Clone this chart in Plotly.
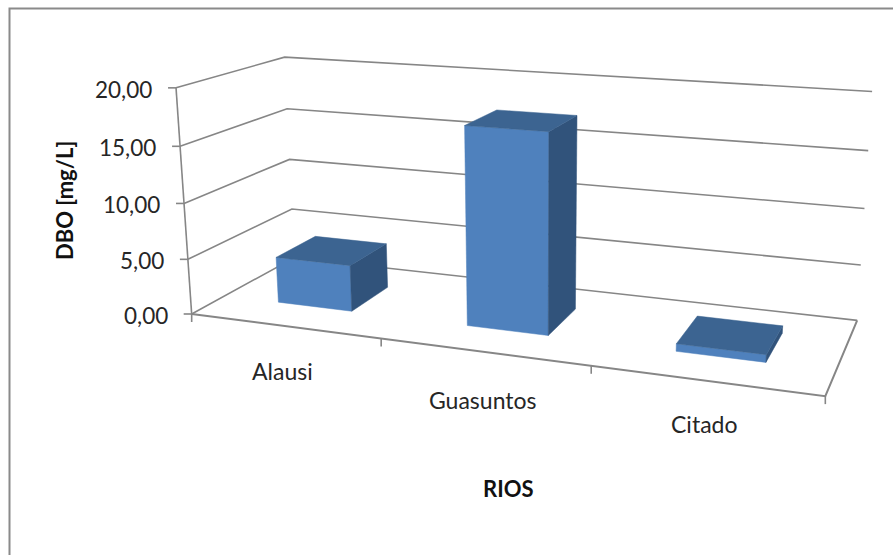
import numpy as np
import plotly.graph_objects as go

# Chart data
categories = ["Alausi", "Guasuntos", "Citado"]
dbo_values = [4.2, 17.4, 0.65]
value_ticks = [0, 5, 10, 15, 20]
y_axis_title = "DBO [mg/L]"
x_axis_title = "RIOS"

# Column footprint inside a category cell and inside the floor depth (gap width 150 %)
CELL_INSET = 0.3
DEPTH_NEAR, DEPTH_FAR = 0.3, 0.7

WIDTH, HEIGHT = 893, 555
GREY = "#868686"
FRONT, TOP, SIDE = "#4F81BD", "#3C6491", "#31537B"
FONT = "Lato"

# Perspective camera: box corners (category, value, depth) and where they land on the page
n_cat = len(categories)
camera_points = [
    ((0, 0, 0), (191, 315)), ((0, 5, 0), (188, 259)), ((0, 10, 0), (184, 203)),
    ((0, 15, 0), (180, 146)), ((0, 20, 0), (177, 88)),
    ((0, 0, 1), (295, 257)), ((0, 5, 1), (292, 209)), ((0, 10, 1), (289, 160)),
    ((0, 15, 1), (287, 109)), ((0, 20, 1), (284, 57)),
    ((n_cat, 0, 1), (857, 320)), ((n_cat, 5, 1), (861, 265.5)), ((n_cat, 10, 1), (865, 208.7)),
    ((n_cat, 15, 1), (868, 151)), ((n_cat, 20, 1), (872, 91)),
    ((n_cat, 0, 0), (825, 396)),
]

# Offsets of the category labels from the front edge of the floor
label_offsets = [(-2, 45), (0, 48), (-1, 43)]


def fit_camera(points):
    """Direct linear transform in normalised coordinates."""
    rows = []
    for (u, v, w), (x, y) in points:
        X = [u / n_cat, v / 20, w, 1]
        px, py = x / WIDTH, y / HEIGHT
        rows.append(X + [0, 0, 0, 0] + [-px * c for c in X])
        rows.append([0, 0, 0, 0] + X + [-py * c for c in X])
    return np.linalg.svd(np.array(rows))[2][-1].reshape(3, 4)


CAMERA = fit_camera(camera_points)


def project(u, v, w):
    x, y, h = CAMERA @ np.array([u / n_cat, v / 20, w, 1])
    return x / h * WIDTH, y / h * HEIGHT


fig = go.Figure()


def add_line(pts, width=1.6, color=GREY):
    fig.add_trace(go.Scatter(x=[p[0] for p in pts], y=[p[1] for p in pts], mode="lines",
                             line=dict(color=color, width=width), hoverinfo="skip",
                             showlegend=False))


def add_face(pts, color):
    pts = list(pts) + [pts[0]]
    fig.add_trace(go.Scatter(x=[p[0] for p in pts], y=[p[1] for p in pts], mode="lines",
                             fill="toself", fillcolor=color, line=dict(color=color, width=0.5),
                             hoverinfo="skip", showlegend=False))


# Chart-area border, running off the page on the right and bottom
add_line([(9.5, HEIGHT), (9.5, 8.5), (WIDTH, 8.5)], width=2, color="#8A8A8A")

# Gridlines on the side and back walls
for v in value_ticks:
    add_line([project(0, v, 0), project(0, v, 1), project(n_cat, v, 1)])

# Value axis, floor outline and tick marks
add_line([project(0, 0, 0), project(0, value_ticks[-1], 0)])
add_line([project(0, 0, 0), project(n_cat, 0, 0), project(n_cat, 0, 1)], width=2)
for v in value_ticks:
    x, y = project(0, v, 0)
    add_line([(x - 8, y), (x, y)])
for i in range(n_cat + 1):
    x, y = project(i, 0, 0)
    add_line([(x, y), (x, y + 8)])

# Columns: only the front, top and right faces are visible
for i, val in enumerate(dbo_values):
    u0, u1 = i + CELL_INSET, i + 1 - CELL_INSET
    add_face([project(u0, 0, DEPTH_NEAR), project(u1, 0, DEPTH_NEAR),
              project(u1, val, DEPTH_NEAR), project(u0, val, DEPTH_NEAR)], FRONT)
    add_face([project(u1, 0, DEPTH_NEAR), project(u1, 0, DEPTH_FAR),
              project(u1, val, DEPTH_FAR), project(u1, val, DEPTH_NEAR)], SIDE)
    add_face([project(u0, val, DEPTH_NEAR), project(u1, val, DEPTH_NEAR),
              project(u1, val, DEPTH_FAR), project(u0, val, DEPTH_FAR)], TOP)

# Value tick labels
for v in value_ticks:
    x, y = project(0, v, 0)
    fig.add_annotation(x=x - 22, y=y + 1.5, text=f"{v:.2f}".replace(".", ","), showarrow=False,
                       xanchor="right", yanchor="middle",
                       font=dict(family=FONT, size=22.5, color="#262626"))

# Category labels
for i, name in enumerate(categories):
    x, y = project(i + 0.5, 0, 0)
    dx, dy = label_offsets[i]
    fig.add_annotation(x=x + dx, y=y + dy, text=name, showarrow=False,
                       font=dict(family=FONT, size=23, color="#262626"))

# Axis titles
fig.add_annotation(x=508, y=488, text=f"<b>{x_axis_title}</b>", showarrow=False,
                   font=dict(family=FONT, size=22, color="#111111"))
fig.add_annotation(x=64, y=201, text=f"<b>{y_axis_title}</b>", showarrow=False, textangle=-90,
                   font=dict(family=FONT, size=22, color="#111111"))

fig.update_layout(
    width=WIDTH, height=HEIGHT, margin=dict(l=0, r=0, t=0, b=0),
    paper_bgcolor="white", plot_bgcolor="white", showlegend=False,
    xaxis=dict(range=[0, WIDTH], visible=False, fixedrange=True),
    yaxis=dict(range=[HEIGHT, 0], visible=False, fixedrange=True),
)

fig.write_html("out.html")
